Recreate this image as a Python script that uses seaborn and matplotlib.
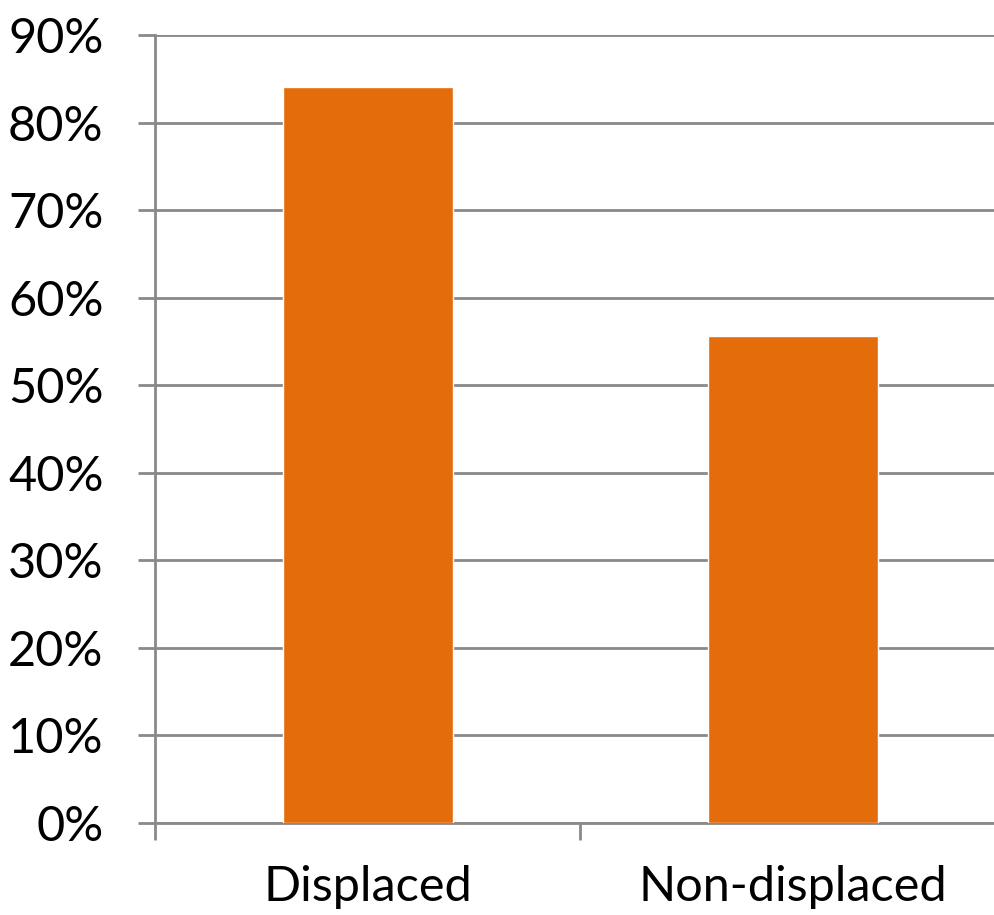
import matplotlib
matplotlib.use("Agg")
import matplotlib.pyplot as plt
import seaborn as sns
import pandas as pd
from matplotlib.ticker import PercentFormatter

groups = ["Displaced", "Non-displaced"]
shares = [84.1, 55.6]

df = pd.DataFrame({"group": groups, "share": shares})

sns.set_style("white")
plt.rcParams["font.family"] = ["Lato", "DejaVu Sans"]

fig = plt.figure(figsize=(9.94, 9.15), dpi=100)
ax = fig.add_axes([155 / 994, 1 - 823 / 915, 850 / 994, 788 / 915])

sns.barplot(data=df, x="group", y="share", color="#E46C0A", saturation=1,
            width=0.4, ax=ax, zorder=3)

grid_col = "#898989"
ax.set_ylim(0, 90)
ax.set_xlim(-0.5, 1.5)
ax.set_yticks(range(0, 91, 10))
ax.yaxis.set_major_formatter(PercentFormatter(decimals=0))

# category boundaries carry the tick marks, labels sit at the bar centres
ax.set_xticks([-0.5, 0.5, 1.5], minor=False)
ax.set_xticks([0, 1], minor=True)
ax.set_xticklabels(["", "", ""])
ax.set_xticklabels(groups, minor=True)
ax.tick_params(axis="x", which="major", bottom=True, length=12, width=2,
               color=grid_col, direction="out")
ax.tick_params(axis="x", which="minor", bottom=True, length=0, pad=30,
               labelsize=35, labelcolor="black")
ax.tick_params(axis="y", left=True, length=12, width=2, color=grid_col,
               direction="out", labelsize=35, labelcolor="black", pad=25)
ax.grid(axis="y", color=grid_col, linewidth=2, zorder=0)
ax.set_axisbelow(True)

for side in ["top", "right"]:
    ax.spines[side].set_visible(False)
for side in ["left", "bottom"]:
    ax.spines[side].set_color(grid_col)
    ax.spines[side].set_linewidth(2)

ax.set_xlabel("")
ax.set_ylabel("")

fig.savefig("out.png", dpi=100)
